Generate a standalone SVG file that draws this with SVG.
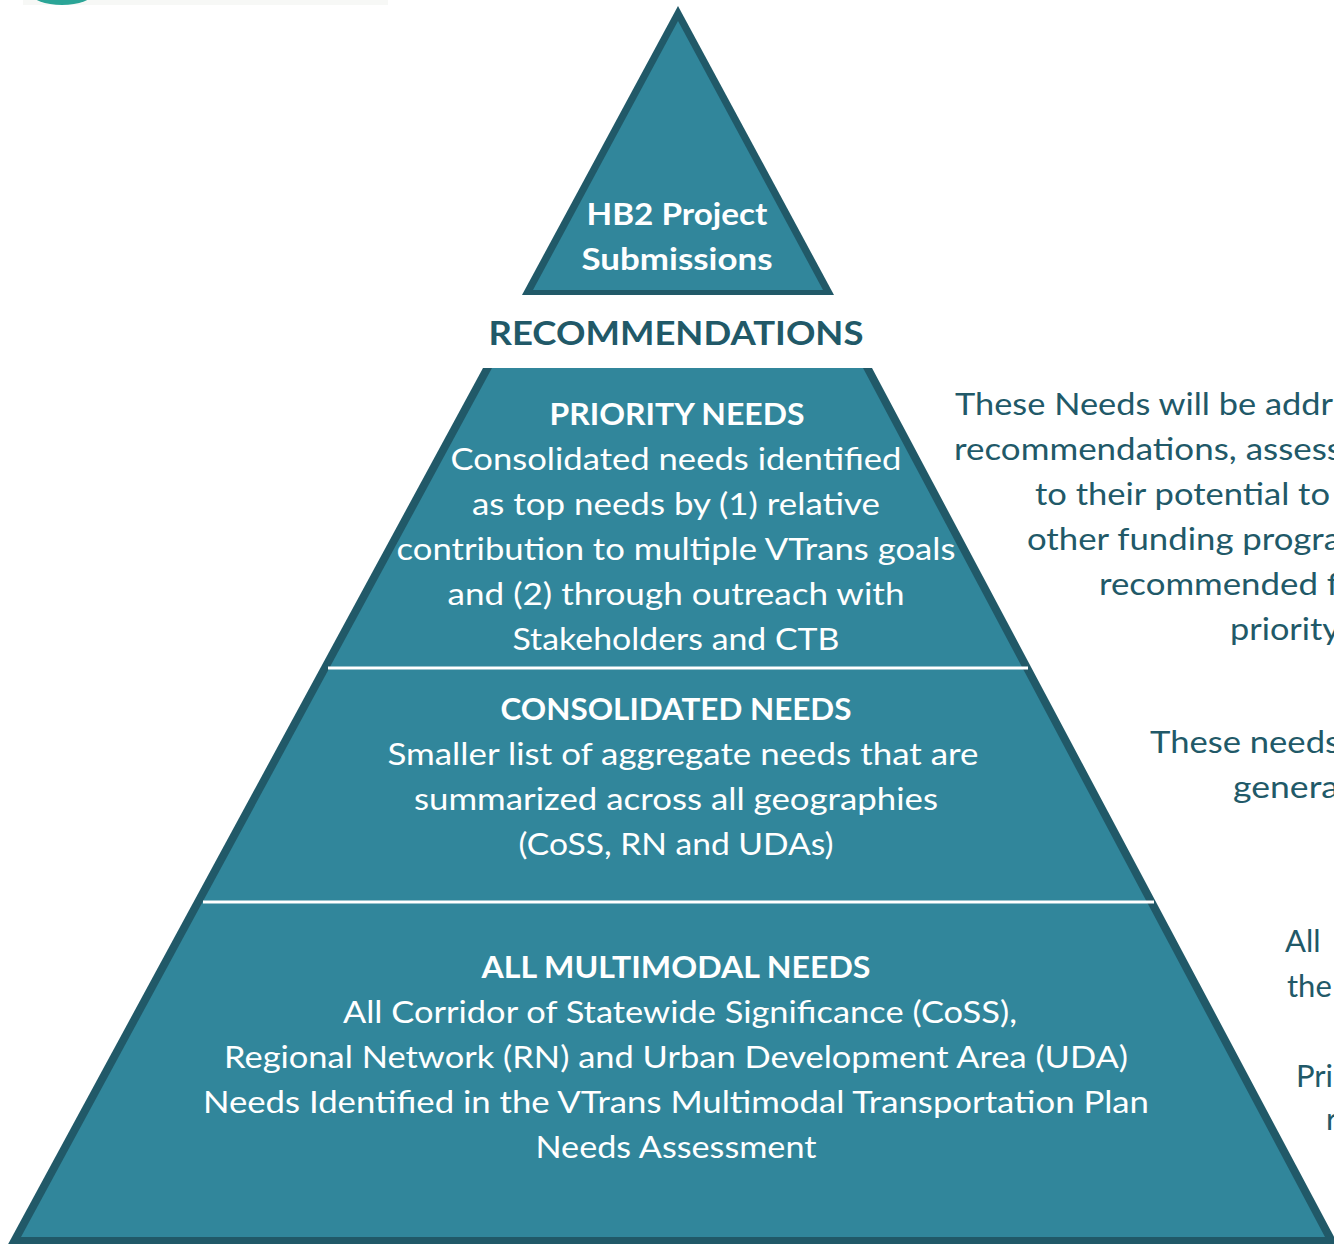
<svg xmlns="http://www.w3.org/2000/svg" width="1334" height="1244" viewBox="0 0 1334 1244">
<defs>
<style>
.w{fill:#ffffff;font-family:Lato,"Open Sans","Liberation Sans",sans-serif;font-size:31px;text-anchor:middle}
.wb{fill:#ffffff;font-family:Lato,"Open Sans","Liberation Sans",sans-serif;font-size:31px;font-weight:700;text-anchor:middle}
.d{fill:#215968;font-family:Lato,"Open Sans","Liberation Sans",sans-serif;font-size:31px}
.db{fill:#215968;font-family:Lato,"Open Sans","Liberation Sans",sans-serif;font-size:33px;font-weight:700;text-anchor:middle}
.edge{fill:#215968}
.body{fill:#31869b}
.sep{stroke:#ffffff;stroke-width:3}
</style>
</defs>
<rect width="1334" height="1244" fill="#ffffff"/>
<g id="logo-fragment">
<rect x="23" y="0" width="365" height="5" fill="#f7f8f6"/>
<ellipse cx="62" cy="-7" rx="31" ry="12" fill="#2ba597"/>
</g>
<g id="hb2-submissions">
<polygon class="edge" points="678,6 834,295 522,295"/>
<polygon class="body" points="678,21 823,290 533,290"/>
<text class="wb" x="677" y="225" textLength="181" lengthAdjust="spacingAndGlyphs">HB2 Project</text>
<text class="wb" x="677" y="270" textLength="191" lengthAdjust="spacingAndGlyphs">Submissions</text>
</g>
<g id="recommendations">
<text class="db" x="676" y="345" textLength="375" lengthAdjust="spacingAndGlyphs">RECOMMENDATIONS</text>
</g>
<g id="pyramid">
<polygon class="edge" points="483,368 872,368 1340,1248 6,1248"/>
<polygon class="body" points="492,368 863,368 1325,1237 21,1237"/>
<line class="sep" x1="328" y1="668" x2="1028" y2="668"/>
<line class="sep" x1="203" y1="902" x2="1154" y2="902"/>
</g>
<g id="priority-needs">
<text class="wb" x="677" y="425" textLength="255" lengthAdjust="spacingAndGlyphs">PRIORITY NEEDS</text>
<text class="w" x="676" y="470" textLength="451" lengthAdjust="spacingAndGlyphs">Consolidated needs identified</text>
<text class="w" x="676" y="515" textLength="408" lengthAdjust="spacingAndGlyphs">as top needs by (1) relative</text>
<text class="w" x="676" y="560" textLength="559" lengthAdjust="spacingAndGlyphs">contribution to multiple VTrans goals</text>
<text class="w" x="676" y="605" textLength="457" lengthAdjust="spacingAndGlyphs">and (2) through outreach with</text>
<text class="w" x="676" y="650" textLength="327" lengthAdjust="spacingAndGlyphs">Stakeholders and CTB</text>
</g>
<g id="consolidated-needs">
<text class="wb" x="676" y="720" textLength="351" lengthAdjust="spacingAndGlyphs">CONSOLIDATED NEEDS</text>
<text class="w" x="683" y="765" textLength="591" lengthAdjust="spacingAndGlyphs">Smaller list of aggregate needs that are</text>
<text class="w" x="676" y="810" textLength="524" lengthAdjust="spacingAndGlyphs">summarized across all geographies</text>
<text class="w" x="676" y="855" textLength="315" lengthAdjust="spacingAndGlyphs">(CoSS, RN and UDAs)</text>
</g>
<g id="all-multimodal-needs">
<text class="wb" x="676" y="978" textLength="389" lengthAdjust="spacingAndGlyphs">ALL MULTIMODAL NEEDS</text>
<text class="w" x="680" y="1023" textLength="674" lengthAdjust="spacingAndGlyphs">All Corridor of Statewide Significance (CoSS),</text>
<text class="w" x="676" y="1068" textLength="904" lengthAdjust="spacingAndGlyphs">Regional Network (RN) and Urban Development Area (UDA)</text>
<text class="w" x="676" y="1113" textLength="946" lengthAdjust="spacingAndGlyphs">Needs Identified in the VTrans Multimodal Transportation Plan</text>
<text class="w" x="676" y="1158" textLength="281" lengthAdjust="spacingAndGlyphs">Needs Assessment</text>
</g>
<g id="note-priority">
<text class="d" x="955" y="415" textLength="378" lengthAdjust="spacingAndGlyphs">These Needs will be addr</text>
<text class="d" x="954" y="460" textLength="388" lengthAdjust="spacingAndGlyphs">recommendations, assess</text>
<text class="d" x="1035" y="505" textLength="295" lengthAdjust="spacingAndGlyphs">to their potential to</text>
<text class="d" x="1027" y="550" textLength="314" lengthAdjust="spacingAndGlyphs">other funding progra</text>
<text class="d" x="1099" y="595" textLength="240" lengthAdjust="spacingAndGlyphs">recommended f</text>
<text class="d" x="1230" y="640" textLength="110" lengthAdjust="spacingAndGlyphs">priority</text>
</g>
<g id="note-consolidated">
<text class="d" x="1150" y="753" textLength="190" lengthAdjust="spacingAndGlyphs">These needs</text>
<text class="d" x="1233" y="798" textLength="106" lengthAdjust="spacingAndGlyphs">genera</text>
</g>
<g id="note-all">
<text class="d" x="1285" y="952">All</text>
<text class="d" x="1287" y="997">the</text>
<text class="d" x="1296" y="1087">Pri</text>
<text class="d" x="1326" y="1130">r</text>
</g>
</svg>
